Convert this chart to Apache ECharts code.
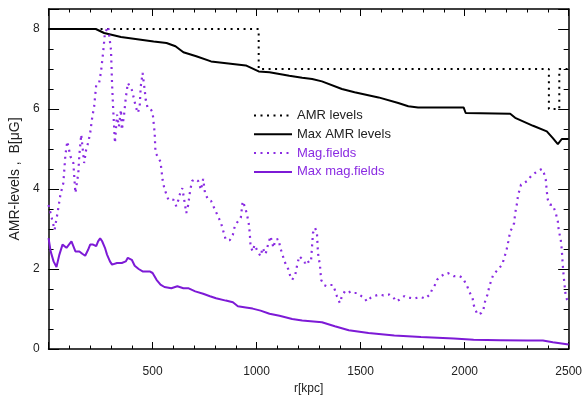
<!DOCTYPE html>
<html>
<head>
<meta charset="utf-8">
<script src="https://cdn.jsdelivr.net/npm/echarts@6/dist/echarts.min.js"></script>
<style>
html,body{margin:0;padding:0;background:#fff;}
#c{width:585px;height:400px;}
</style>
</head>
<body>
<div id="c"></div>
<script>
// ---- data ----
var xTicks = [500, 1000, 1500, 2000, 2500];
var yTicks = [0, 2, 4, 6, 8];
var seriesNames = ['AMR levels', 'Max AMR levels', 'Mag.fields', 'Max mag.fields'];

var amrR      = [0, 1010, 1010, 2405, 2405, 2455, 2455, 2500];
var amrLevels = [8, 8,    7,    7,    6,    6,    7,    7];

var maxAmrR = [0,227,267,348,505,567,610,648,710,781,948,1010,1062,1157,1219,1267,1314,1410,1471,1586,1681,1729,1776,1995,2005,2219,2243,2329,2395,2424,2448,2467,2500];
var maxAmrLevels = [8,8,7.9,7.8,7.69,7.65,7.57,7.42,7.32,7.19,7.09,6.94,6.92,6.83,6.78,6.75,6.69,6.5,6.42,6.29,6.15,6.07,6.04,6.04,5.9,5.88,5.78,5.58,5.44,5.27,5.12,5.25,5.25];

var magR = [0,14,29,43,57,71,81,90,105,119,129,143,148,157,171,181,190,200,210,219,229,243,252,262,271,286,300,305,310,314,319,329,338,348,352,362,371,381,390,400,410,419,429,438,443,452,462,467,476,490,500,510,514,524,538,548,557,567,576,586,600,614,624,633,643,652,662,671,681,690,705,719,733,743,752,767,781,800,814,829,838,852,871,886,895,910,924,933,943,952,962,967,971,981,990,1005,1019,1029,1043,1057,1067,1081,1090,1105,1114,1129,1143,1152,1162,1171,1186,1195,1205,1219,1233,1243,1252,1262,1271,1281,1290,1295,1305,1310,1324,1338,1352,1367,1376,1386,1400,1410,1424,1438,1452,1467,1481,1490,1505,1519,1529,1538,1548,1562,1576,1590,1610,1624,1638,1648,1662,1671,1686,1695,1710,1724,1738,1757,1771,1786,1800,1810,1819,1833,1843,1857,1867,1886,1900,1919,1933,1948,1962,1976,1990,2000,2010,2019,2029,2038,2043,2052,2062,2071,2081,2090,2100,2110,2119,2129,2138,2152,2167,2181,2190,2200,2210,2219,2229,2238,2243,2252,2257,2267,2271,2286,2300,2319,2338,2357,2371,2381,2390,2395,2400,2410,2424,2438,2448,2452,2462,2467,2471,2476,2481,2486,2495];
var magField = [3.6,3.3,2.98,3.4,3.86,4.15,4.86,5.19,4.82,4.65,3.9,4.4,4.86,5.36,4.65,5.0,5.15,5.4,5.8,6.06,6.6,6.65,6.93,7.4,7.9,8.06,7.48,6.65,6.06,5.65,5.15,5.86,5.56,5.98,5.48,5.81,6.27,6.65,6.66,6.48,6.27,6.06,5.9,6.06,6.56,6.9,6.48,6.23,6.03,6.0,5.92,5.4,4.9,4.82,4.68,4.23,4.0,3.86,3.73,3.75,3.73,3.57,3.73,3.9,4.02,3.73,3.4,3.6,3.98,4.2,4.25,4.2,3.98,4.25,3.9,3.73,3.7,3.48,3.32,3.15,2.98,2.73,2.72,2.86,3.07,3.19,3.28,3.69,3.57,3.4,3.15,2.9,2.57,2.44,2.6,2.44,2.32,2.53,2.37,2.65,2.82,2.53,2.73,2.75,2.53,2.28,2.07,2.0,1.82,1.73,1.86,2.1,2.32,2.25,2.15,2.23,2.15,2.23,2.9,3.03,2.9,2.4,2.07,1.73,1.6,1.57,1.6,1.6,1.48,1.32,1.15,1.32,1.44,1.4,1.44,1.4,1.4,1.36,1.32,1.28,1.19,1.23,1.28,1.32,1.34,1.36,1.34,1.36,1.36,1.32,1.26,1.19,1.23,1.28,1.32,1.28,1.28,1.26,1.28,1.3,1.28,1.26,1.26,1.36,1.48,1.6,1.73,1.82,1.86,1.9,1.86,1.82,1.82,1.82,1.78,1.69,1.6,1.48,1.36,1.28,1.11,0.98,0.86,0.82,0.9,0.98,1.23,1.36,1.57,1.73,1.86,1.94,2.03,2.11,2.28,2.44,2.69,2.94,3.03,3.15,3.4,3.65,3.86,4.02,4.11,4.15,4.2,4.32,4.4,4.46,4.5,4.4,4.23,3.94,3.73,3.61,3.6,3.4,3.19,2.98,2.73,2.48,2.15,1.82,1.57,1.32,1.2];

var maxMagR = [0,10,24,38,43,52,67,76,86,95,110,119,129,138,148,162,176,190,200,214,229,238,248,257,271,281,295,305,329,352,371,381,390,400,414,433,452,486,500,519,538,557,590,619,648,671,705,743,776,805,852,886,910,948,981,1019,1062,1110,1171,1219,1314,1376,1443,1538,1662,1790,1948,2043,2171,2300,2376,2424,2500];
var maxMagField = [2.77,2.44,2.19,2.05,2.1,2.36,2.61,2.63,2.53,2.5,2.69,2.69,2.44,2.48,2.44,2.38,2.33,2.48,2.61,2.61,2.57,2.69,2.77,2.7,2.53,2.36,2.19,2.11,2.15,2.15,2.19,2.28,2.3,2.23,2.08,2.0,1.94,1.94,1.9,1.73,1.61,1.55,1.52,1.57,1.52,1.52,1.44,1.38,1.32,1.27,1.21,1.17,1.07,1.04,1.01,0.96,0.88,0.83,0.75,0.71,0.67,0.57,0.47,0.4,0.34,0.3,0.26,0.23,0.22,0.21,0.21,0.17,0.11];

function zip(a, b) { return a.map(function (v, i) { return [v, b[i]]; }); }

var BLACK = '#000000';
var PURPLE = '#8a2be2';
var PURPLE_SOLID = '#7d1ad6';
var FONT = '"Liberation Sans", Arial, Helvetica, sans-serif';
var TXT = '#222';

var chart = echarts.init(document.getElementById('c'), null, {renderer: 'canvas'});

function xAx(pos, interval, len, labels, line) {
  return {
    type: 'value', position: pos, min: 0, max: 2500, interval: interval,
    axisLine: {show: !!line, onZero: false, lineStyle: {color: '#000', width: 1.5}},
    splitLine: {show: false},
    axisTick: {show: true, inside: true, length: len, lineStyle: {color: '#000', width: 1}},
    axisLabel: labels ? {
      show: true, margin: 17, color: TXT, fontFamily: FONT, fontSize: 12,
      formatter: function (v) { return xTicks.indexOf(v) >= 0 ? String(v) : ''; }
    } : {show: false}
  };
}
function yAx(pos, interval, len, labels, line) {
  return {
    type: 'value', position: pos, min: 0, max: 8.5, interval: interval,
    axisLine: {show: !!line, onZero: false, lineStyle: {color: '#000', width: 1.5}},
    splitLine: {show: false},
    axisTick: {show: true, inside: true, length: len, lineStyle: {color: '#000', width: 1}},
    axisLabel: labels ? {
      show: true, margin: 9, color: TXT, fontFamily: FONT, fontSize: 12,
      formatter: function (v) { return yTicks.indexOf(v) >= 0 ? String(v) : ''; }
    } : {show: false}
  };
}

var xAxes = [xAx('bottom', 500, 7, true, true), xAx('bottom', 100, 3.5, false, false), xAx('top', 500, 7, false, true), xAx('top', 100, 3.5, false, false)];
xAxes[0].name = 'r[kpc]';
xAxes[0].nameLocation = 'middle';
xAxes[0].nameGap = 34;
xAxes[0].nameTextStyle = {color: TXT, fontFamily: FONT, fontSize: 12};

var yAxes = [yAx('left', 2, 10.5, true, true), yAx('left', 0.5, 5, false, false), yAx('right', 2, 10.5, false, true), yAx('right', 0.5, 5, false, false)];
yAxes[0].name = 'AMR-levels ,  B[\u03bcG]';
yAxes[0].nameLocation = 'middle';
yAxes[0].nameGap = 25;
yAxes[0].nameTextStyle = {color: TXT, fontFamily: FONT, fontSize: 14};

var option = {
  animation: false,
  backgroundColor: '#fff',
  grid: {left: 44, right: 16, top: 9, bottom: 51, show: false},
  xAxis: xAxes,
  yAxis: yAxes,
  legend: {
    orient: 'vertical', left: 253, top: 109, padding: 0,
    itemWidth: 38, itemHeight: 14, itemGap: 5.8,
    itemStyle: {opacity: 0},
    textStyle: {fontFamily: FONT, fontSize: 13, color: TXT},
    data: [
      {name: seriesNames[0], textStyle: {color: TXT}},
      {name: seriesNames[1], textStyle: {color: TXT}},
      {name: seriesNames[2], textStyle: {color: PURPLE}},
      {name: seriesNames[3], textStyle: {color: PURPLE}}
    ]
  },
  series: [
    {name: seriesNames[0], type: 'line', data: zip(amrR, amrLevels), symbol: 'none', color: BLACK,
     lineStyle: {color: BLACK, width: 2, type: [2, 4.5]}},
    {name: seriesNames[1], type: 'line', data: zip(maxAmrR, maxAmrLevels), symbol: 'none', color: BLACK,
     lineStyle: {color: BLACK, width: 2}},
    {name: seriesNames[2], type: 'line', data: zip(magR, magField), symbol: 'none', color: PURPLE,
     lineStyle: {color: PURPLE, width: 2.2, type: [2, 4.5]}},
    {name: seriesNames[3], type: 'line', data: zip(maxMagR, maxMagField), symbol: 'none', color: PURPLE_SOLID,
     lineStyle: {color: PURPLE_SOLID, width: 2}}
  ]
};
chart.setOption(option);
</script>
</body>
</html>
